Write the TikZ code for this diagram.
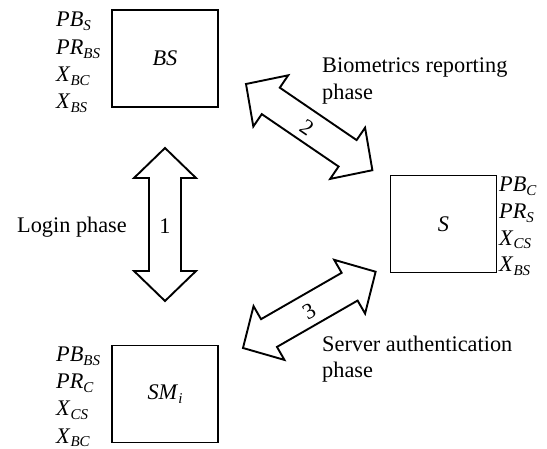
\documentclass[tikz,border=0pt]{standalone}
\usepackage{fontspec}
\setmainfont{Liberation Serif}
\newcommand\sv[2]{\textit{#1}\raisebox{-3.5pt}{\fontsize{15}{15}\selectfont\textit{#2}}}
\newcommand\blockarrowpath{(0,0) -- (30,31) -- (30,16) -- (123,16) -- (123,31) -- (153,0) -- (123,-31) -- (123,-16) -- (30,-16) -- (30,-31) -- cycle}
\begin{document}
\begin{tikzpicture}[x=1pt,y=-1pt,
  every node/.style={font=\fontsize{22.3}{27}\selectfont, inner sep=0pt},
  box/.style={draw, line width=1.9pt, minimum width=106, minimum height=97},
  blk/.style={draw, line width=1.9pt, line join=miter, fill=white},
  lbl/.style={anchor=base west},
  num/.style={anchor=center}]
\useasboundingbox (0,0) rectangle (547,449);
% boxes
\node[box] (bs) at (165,58.5) {\textit{BS}};
\node[box] (s) at (443.5,224) {\textit{S}};
\node[box] (sm) at (165,394) {\sv{SM}{i}};
% key lists
\node[lbl] (bs1) at (56,27) {\sv{PB}{S}};
\node[lbl] (bs2) at (56,55) {\sv{PR}{BS}};
\node[lbl] (bs3) at (56,82) {\sv{X}{BC}};
\node[lbl] (bs4) at (56,109) {\sv{X}{BS}};
\node[lbl] (s1) at (499,192) {\sv{PB}{C}};
\node[lbl] (s2) at (499,218.7) {\sv{PR}{S}};
\node[lbl] (s3) at (499,245.3) {\sv{X}{CS}};
\node[lbl] (s4) at (499,272) {\sv{X}{BS}};
\node[lbl] (sm1) at (56,362) {\sv{PB}{BS}};
\node[lbl] (sm2) at (56,389) {\sv{PR}{C}};
\node[lbl] (sm3) at (56,416) {\sv{X}{CS}};
\node[lbl] (sm4) at (56,443) {\sv{X}{BC}};
% block arrows
\begin{scope}[shift={(165,148)}, rotate=-90]
  \draw[blk] \blockarrowpath;
\end{scope}
\begin{scope}[shift={(246,84)}, rotate=-34.3]
  \draw[blk] \blockarrowpath;
\end{scope}
\begin{scope}[shift={(243,348)}, rotate=29.9]
  \draw[blk] \blockarrowpath;
\end{scope}
% arrow numbers
\node[num] (n1) at (165,226) {1};
\node[num, rotate=-34.3] (n2) at (307,128) {2};
\node[num, rotate=29.9] (n3) at (309,311) {3};
% phase labels
\node[anchor=base east] (login) at (127,233) {Login phase};
\node[lbl] (bio1) at (322,73) {Biometrics reporting};
\node[lbl] (bio2) at (322,100) {phase};
\node[lbl] (srv1) at (322,352) {Server authentication};
\node[lbl] (srv2) at (322,378) {phase};
\end{tikzpicture}
\end{document}
